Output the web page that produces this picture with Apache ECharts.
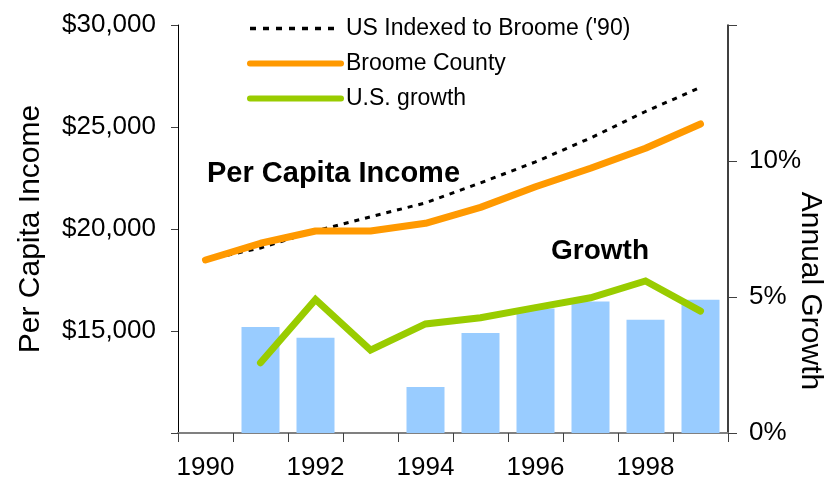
<!DOCTYPE html>
<html>
<head>
<meta charset="utf-8">
<script src="https://cdn.jsdelivr.net/npm/echarts@6/dist/echarts.min.js"></script>
<style>html,body{margin:0;padding:0;background:#fff}#c{width:828px;height:488px}</style>
</head>
<body>
<div id="c"></div>
<script>
const years = ['1990','1991','1992','1993','1994','1995','1996','1997','1998','1999'];
const usIndexed = [18480, 19070, 19900, 20600, 21280, 22260, 23290, 24460, 25760, 26940];
const broome = [18480, 19300, 19900, 19900, 20280, 21060, 22070, 22980, 23960, 25150];
const usGrowth = [null, 2.58, 4.91, 3.05, 4.01, 4.24, 4.61, 4.97, 5.59, 4.48];
const broomeGrowth = [null, 3.90, 3.50, 0, 1.69, 3.68, 4.58, 4.83, 4.16, 4.90];
const leftTicks = { min: 10000, max: 30000, interval: 5000 };
const rightTicks = { min: 0, max: 15, interval: 5 };

const FONT = "'Liberation Sans', Arial, sans-serif";
const chart = echarts.init(document.getElementById('c'), null, { renderer: 'canvas' });
chart.setOption({
  animation: false,
  backgroundColor: '#fff',
  textStyle: { fontFamily: FONT, color: '#000' },
  title: [
    { text: 'Per Capita Income', left: 207, top: 159, padding: 0, textStyle: { fontFamily: FONT, fontWeight: 'bold', fontSize: 29, color: '#000' } },
    { text: 'Growth', left: 551, top: 237, padding: 0, textStyle: { fontFamily: FONT, fontWeight: 'bold', fontSize: 28, color: '#000' } }
  ],
  legend: {
    orient: 'vertical', left: 247, top: 17, padding: 0,
    itemWidth: 91, itemHeight: 24, itemGap: 12,
    itemStyle: { opacity: 0 },
    data: [
      { name: "US Indexed to Broome ('90)", lineStyle: { width: 3.5, type: [6, 7], color: '#000' } },
      { name: 'Broome County', lineStyle: { width: 6, cap: 'round', color: '#FF9900' } },
      { name: 'U.S. growth', lineStyle: { width: 6, cap: 'round', color: '#99CC00' } }
    ],
    textStyle: { fontFamily: FONT, fontSize: 23, color: '#000' }
  },
  grid: { left: 178, right: 100, top: 25, bottom: 55, outerBoundsMode: 'none', containLabel: false },
  xAxis: {
    type: 'category', data: years, boundaryGap: true,
    axisLine: { lineStyle: { color: '#808080', width: 2 } },
    axisTick: { show: true, length: 9, lineStyle: { color: '#404040' }, interval: 0 },
    axisLabel: { interval: 1, margin: 22, fontSize: 26, color: '#000', fontFamily: FONT }
  },
  yAxis: [
    {
      type: 'value', min: leftTicks.min, max: leftTicks.max, interval: leftTicks.interval,
      name: 'Per Capita Income', nameLocation: 'middle', nameGap: 132, nameRotate: 90, nameMoveOverlap: false,
      nameTextStyle: { fontSize: 30, color: '#000', fontFamily: FONT },
      splitLine: { show: false },
      axisLine: { show: true, lineStyle: { color: '#000', width: 1 } },
      axisTick: { show: true, length: 7, lineStyle: { color: '#404040' } },
      axisLabel: { margin: 22, fontSize: 26, color: '#000', fontFamily: FONT,
        formatter: v => v === leftTicks.min ? '' : '$' + v.toLocaleString('en-US') }
    },
    {
      type: 'value', min: rightTicks.min, max: rightTicks.max, interval: rightTicks.interval, position: 'right',
      name: 'Annual Growth', nameLocation: 'middle', nameGap: 67, nameRotate: -90, nameMoveOverlap: false,
      nameTextStyle: { fontSize: 30, color: '#000', fontFamily: FONT, padding: [0, 0, 0, 124] },
      splitLine: { show: false },
      axisLine: { show: true, lineStyle: { color: '#000', width: 1.5 } },
      axisTick: { show: true, length: 9, lineStyle: { color: '#404040' } },
      axisLabel: { margin: 21, fontSize: 26, color: '#000', fontFamily: FONT,
        formatter: v => v === rightTicks.max ? '' : v + '%' }
    }
  ],
  series: [
    { name: 'Broome growth', type: 'bar', yAxisIndex: 1, data: broomeGrowth, barWidth: 38,
      itemStyle: { color: '#99CCFF' }, z: 1 },
    { name: "US Indexed to Broome ('90)", type: 'line', data: usIndexed, symbol: 'none',
      lineStyle: { color: '#000', width: 3, type: [5, 6] }, itemStyle: { color: '#000' }, z: 3 },
    { name: 'Broome County', type: 'line', data: broome, symbol: 'none',
      lineStyle: { color: '#FF9900', width: 7, cap: 'round', join: 'round' }, itemStyle: { color: '#FF9900' }, z: 4 },
    { name: 'U.S. growth', type: 'line', yAxisIndex: 1, data: usGrowth, symbol: 'none',
      lineStyle: { color: '#99CC00', width: 7, cap: 'round', join: 'miter' }, itemStyle: { color: '#99CC00' }, z: 4 }
  ]
});
</script>
</body>
</html>
